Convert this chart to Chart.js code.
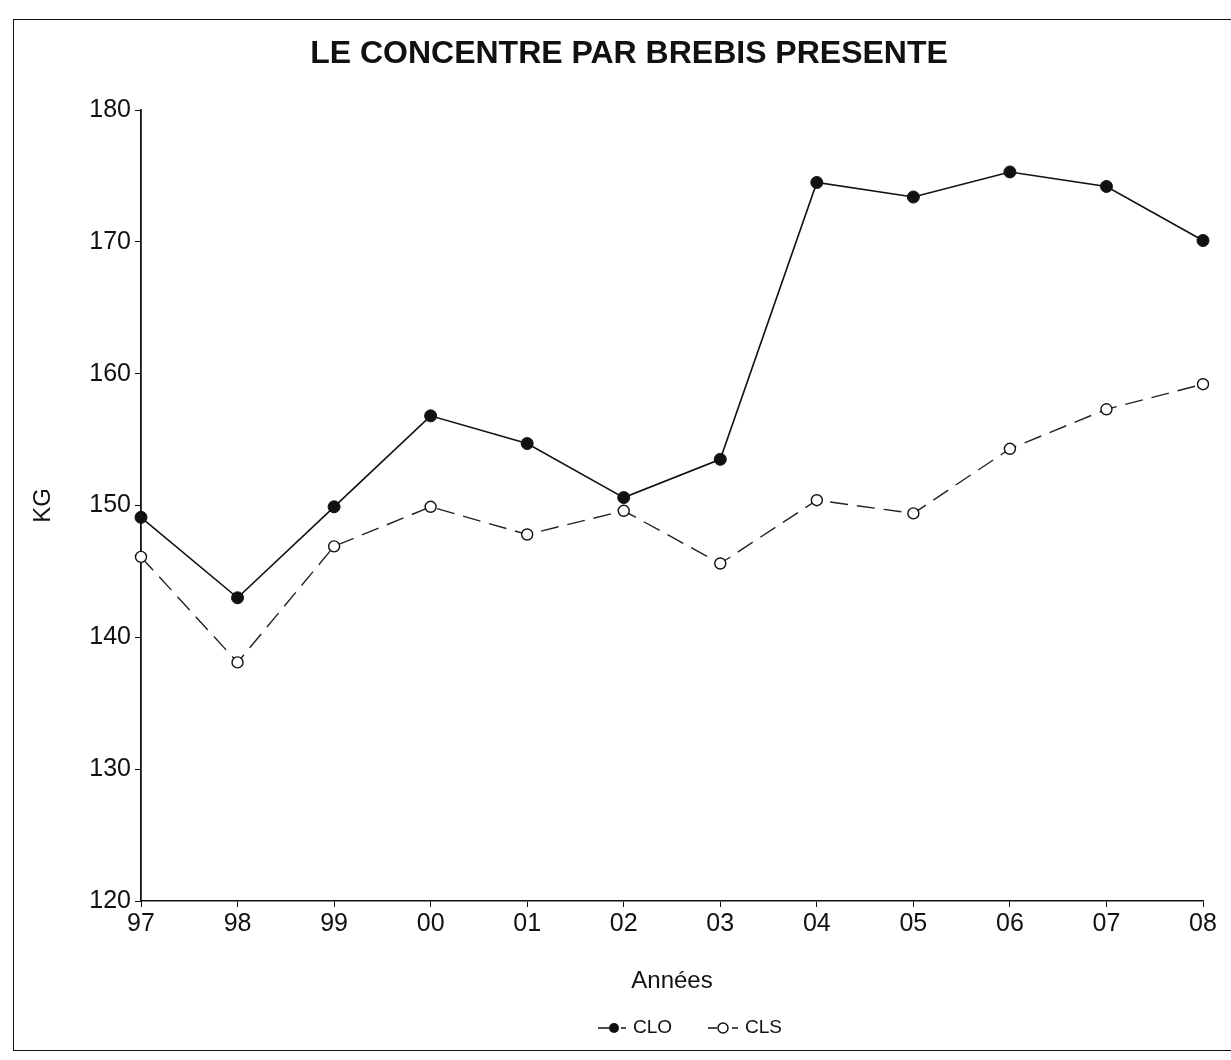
<!DOCTYPE html>
<html>
<head>
<meta charset="utf-8">
<script src="https://cdn.jsdelivr.net/npm/chart.js@4.4.1/dist/chart.umd.min.js"></script>
<style>
  html, body { margin: 0; padding: 0; background: #fff; overflow: hidden; }
  #wrap { position: relative; width: 1231px; height: 1060px; }
  #frame {
    position: absolute; left: 13px; top: 19px; width: 1240px; height: 1032px;
    border: 1.5px solid #111; box-sizing: border-box; pointer-events: none;
  }
  canvas { position: absolute; left: 0; top: 0; }
</style>
</head>
<body>
<div id="wrap">
  <canvas id="chart" width="1231" height="1060"></canvas>
  <div id="frame"></div>
</div>
<script>
// Données
const annees = ['97', '98', '99', '00', '01', '02', '03', '04', '05', '06', '07', '08'];
const clo = [149.1, 143.0, 149.9, 156.8, 154.7, 150.6, 153.5, 174.5, 173.4, 175.3, 174.2, 170.1];
const cls = [146.1, 138.1, 146.9, 149.9, 147.8, 149.6, 145.6, 150.4, 149.4, 154.3, 157.3, 159.2];
const yMin = 120;
const yMax = 180;
const yStep = 10;

const FONT = "'Liberation Sans', Arial, sans-serif";
Chart.defaults.font.family = FONT;
Chart.defaults.color = '#111';

/**
 * Titre + légende dessinés à la main (positions du document d'origine)
 */
const decorPlugin = {
  id: 'decor',
  afterDraw(chart) {
    const ctx = chart.ctx;
    ctx.save();
    ctx.fillStyle = '#111';
    ctx.textBaseline = 'middle';
    ctx.textAlign = 'center';
    ctx.font = 'bold 32px ' + FONT;
    ctx.fillText('LE CONCENTRE PAR BREBIS PRESENTE', 629, 54);

    // légende
    const y = 1028;
    ctx.font = '19px ' + FONT;
    ctx.textAlign = 'left';
    ctx.strokeStyle = '#111';
    ctx.lineWidth = 1.5;

    // CLO
    ctx.beginPath();
    ctx.moveTo(598, y); ctx.lineTo(609, y);
    ctx.moveTo(621, y); ctx.lineTo(626, y);
    ctx.stroke();
    ctx.beginPath();
    ctx.arc(614, y, 5, 0, Math.PI * 2);
    ctx.fill();
    ctx.fillText('CLO', 633, y);

    // CLS
    ctx.beginPath();
    ctx.moveTo(708, y); ctx.lineTo(717, y);
    ctx.moveTo(732, y); ctx.lineTo(738, y);
    ctx.stroke();
    ctx.beginPath();
    ctx.arc(723, y, 5, 0, Math.PI * 2);
    ctx.fillStyle = '#fff';
    ctx.fill();
    ctx.stroke();
    ctx.fillStyle = '#111';
    ctx.fillText('CLS', 745, y);
    ctx.restore();
  }
};

const ctx = document.getElementById('chart').getContext('2d');

new Chart(ctx, {
  type: 'line',
  data: {
    labels: annees,
    datasets: [
      {
        label: 'CLO',
        data: clo,
        borderColor: '#111',
        backgroundColor: '#111',
        borderWidth: 1.6,
        pointRadius: 6,
        pointBackgroundColor: '#111',
        pointBorderColor: '#111',
        pointBorderWidth: 1,
        tension: 0,
        clip: false
      },
      {
        label: 'CLS',
        data: cls,
        borderColor: '#222',
        backgroundColor: '#fff',
        borderWidth: 1.4,
        borderDash: [18, 9],
        pointRadius: 5.5,
        pointBackgroundColor: '#fff',
        pointBorderColor: '#111',
        pointBorderWidth: 1.4,
        tension: 0,
        clip: false
      }
    ]
  },
  options: {
    responsive: false,
    animation: false,
    layout: {
      padding: { left: 10, top: 110, right: 28, bottom: 59 }
    },
    plugins: {
      legend: { display: false },
      title: { display: false },
      tooltip: { enabled: false }
    },
    scales: {
      x: {
        offset: false,
        afterFit: (scale) => { scale.height = 100; },
        grid: {
          drawOnChartArea: false,
          drawTicks: true,
          tickLength: 6,
          color: '#111'
        },
        border: { display: true, color: '#111', width: 1.6 },
        ticks: {
          font: { size: 25 },
          color: '#111',
          padding: 2,
          maxRotation: 0,
          autoSkip: false
        },
        title: {
          display: true,
          text: 'Années',
          font: { size: 24 },
          color: '#111',
          padding: { top: 0, bottom: 5 }
        }
      },
      y: {
        min: yMin,
        max: yMax,
        afterFit: (scale) => { scale.width = 131; },
        grid: {
          drawOnChartArea: false,
          drawTicks: true,
          tickLength: 6,
          color: '#111'
        },
        border: { display: true, color: '#111', width: 1.8 },
        ticks: {
          stepSize: yStep,
          font: { size: 25 },
          color: '#111',
          padding: 4
        },
        title: {
          display: true,
          text: 'KG',
          font: { size: 24 },
          color: '#111',
          padding: { top: 19, bottom: 0 }
        }
      }
    }
  },
  plugins: [decorPlugin]
});
</script>
</body>
</html>
